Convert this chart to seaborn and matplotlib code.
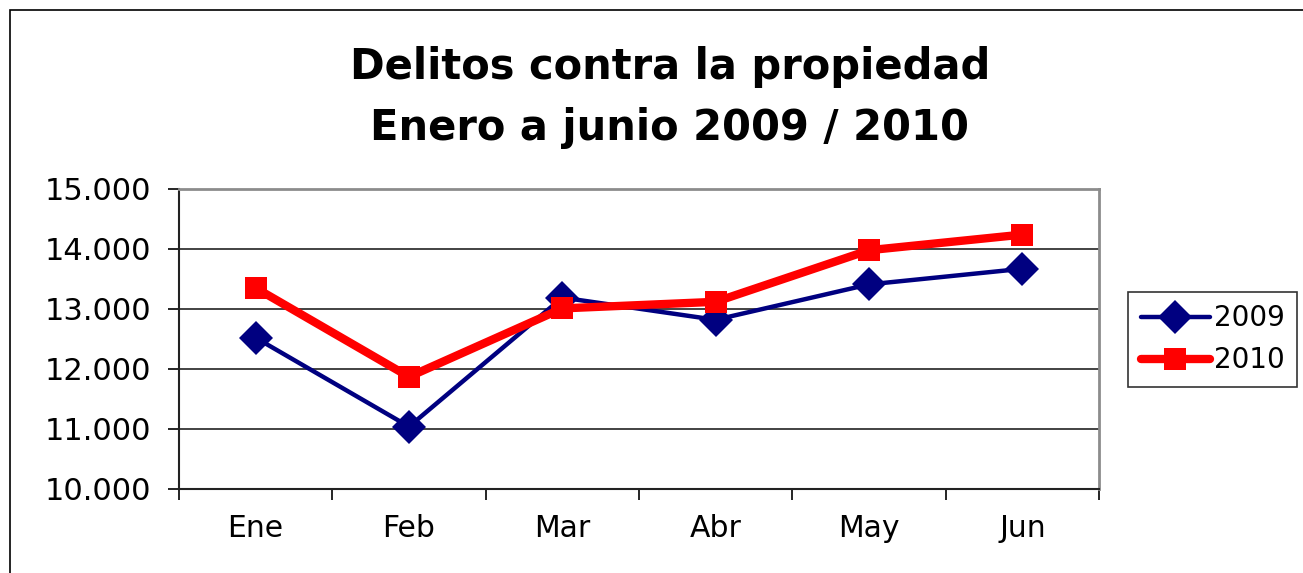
import matplotlib
matplotlib.use("Agg")
import matplotlib.pyplot as plt
import seaborn as sns
import pandas as pd
from matplotlib.patches import Rectangle
from matplotlib.ticker import FixedLocator, FuncFormatter

months = ["Ene", "Feb", "Mar", "Abr", "May", "Jun"]
values_2009 = [12520, 11040, 13190, 12820, 13410, 13670]
values_2010 = [13350, 11870, 13010, 13120, 13980, 14240]
series_names = ["2009", "2010"]
yticks = [10000, 11000, 12000, 13000, 14000, 15000]
title_lines = ["Delitos contra la propiedad", "Enero a junio 2009 / 2010"]

sns.set_theme(style="white")
plt.rcParams["font.family"] = ["DejaVu Sans"]
plt.rcParams["text.color"] = "black"
plt.rcParams["xtick.color"] = "black"
plt.rcParams["ytick.color"] = "black"

df = pd.DataFrame({
    "mes": months * 2,
    "valor": values_2009 + values_2010,
    "serie": [series_names[0]] * len(months) + [series_names[1]] * len(months),
})

fig = plt.figure(figsize=(13.03, 5.73), dpi=100)
ax = fig.add_axes([179 / 1303, 1 - 489 / 573, 920 / 1303, 300 / 573])

sns.lineplot(data=df[df.serie == "2009"], x="mes", y="valor", ax=ax, color="#000080",
             marker="D", markersize=17, markeredgewidth=0, linewidth=3.2, label="2009", sort=False)
sns.lineplot(data=df[df.serie == "2010"], x="mes", y="valor", ax=ax, color="#FF0000",
             marker="s", markersize=16, markeredgewidth=0, linewidth=6, label="2010", sort=False)

ax.set_xlim(-0.5, len(months) - 0.5)
ax.set_ylim(10000, 15000)
ax.set_xlabel("")
ax.set_ylabel("")

ax.yaxis.set_major_locator(FixedLocator(yticks))
ax.yaxis.set_major_formatter(FuncFormatter(lambda v, p: f"{int(v):,}".replace(",", ".")))
ax.grid(axis="y", color="#222222", linewidth=1.2)
ax.grid(axis="x", visible=False)

ax.set_xticks([i - 0.5 for i in range(len(months) + 1)])
ax.set_xticklabels([])
ax.set_xticks(range(len(months)), minor=True)
ax.set_xticklabels(months, minor=True)
ax.tick_params(axis="x", which="major", direction="out", length=8, width=1.2, color="black", bottom=True)
ax.tick_params(axis="x", which="minor", length=0, pad=18, labelsize=21.5, labelcolor="black")
ax.tick_params(axis="y", direction="out", length=8, width=1.2, color="black", left=True,
               labelsize=22, pad=12, labelcolor="black")

for side in ["top", "right"]:
    ax.spines[side].set_color("#8c8c8c")
    ax.spines[side].set_linewidth(2)
for side in ["left", "bottom"]:
    ax.spines[side].set_color("#222222")
    ax.spines[side].set_linewidth(1.5)

leg = ax.legend(loc="upper left", bbox_to_anchor=(1128 / 1303, 1 - 292 / 573),
                bbox_transform=fig.transFigure, frameon=True, fancybox=False,
                fontsize=20, handlelength=2.5, handletextpad=0.15, borderpad=0.45,
                labelspacing=0.5, borderaxespad=0)
leg.get_frame().set_edgecolor("black")
leg.get_frame().set_linewidth(1.2)
for t in leg.get_texts():
    t.set_color("black")

fig.text(670 / 1303, 1 - 67 / 573, title_lines[0], ha="center", va="center",
         fontsize=30, fontweight="bold", color="black")
fig.text(670 / 1303, 1 - 128 / 573, title_lines[1], ha="center", va="center",
         fontsize=30, fontweight="bold", color="black")

fig.patches.append(Rectangle((10 / 1303, -0.1), 1.5, 1.1 - 10 / 573,
                             transform=fig.transFigure, fill=False,
                             edgecolor="black", linewidth=1.2))

fig.savefig("out.png", dpi=100)
